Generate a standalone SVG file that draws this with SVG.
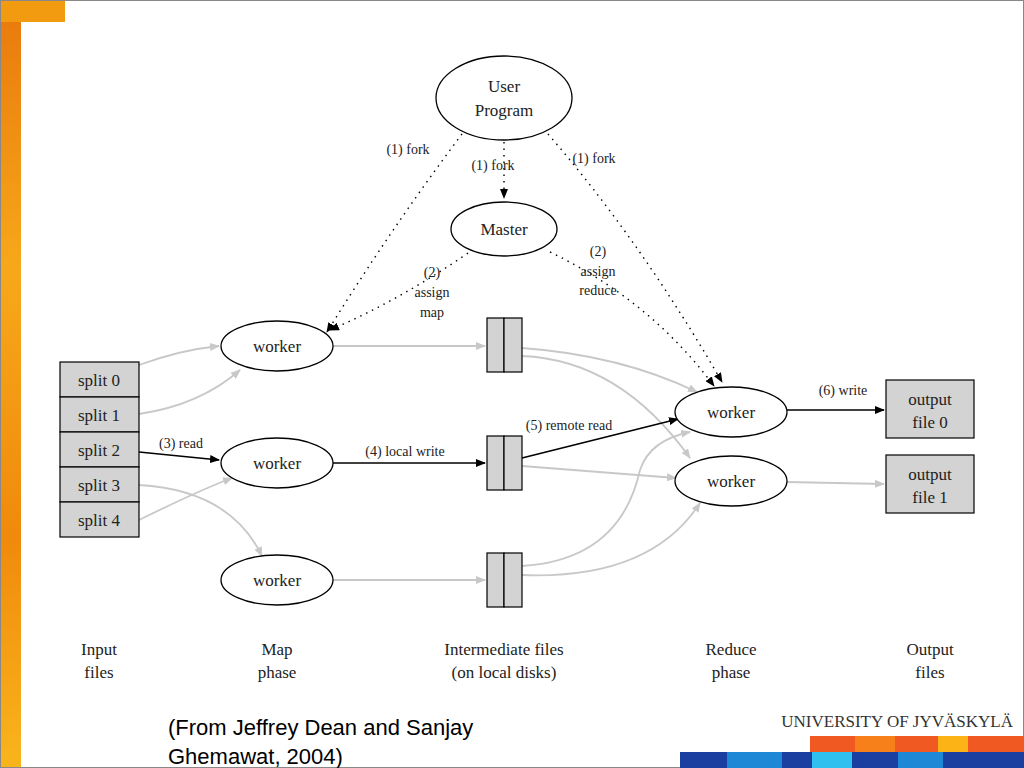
<svg xmlns="http://www.w3.org/2000/svg" width="1024" height="768" viewBox="0 0 1024 768">
<defs>
<linearGradient id="og" x1="0" y1="0" x2="0" y2="1"><stop offset="0" stop-color="#e8780c"/><stop offset="0.35" stop-color="#f7a81a"/><stop offset="0.7" stop-color="#f08a0c"/><stop offset="1" stop-color="#f9b51c"/></linearGradient>
<marker id="ab" markerWidth="10" markerHeight="8" refX="9" refY="4" orient="auto" markerUnits="userSpaceOnUse"><path d="M0,0 L10,4 L0,8 z" fill="#000"/></marker>
<marker id="ag" markerWidth="10" markerHeight="8" refX="9" refY="4" orient="auto" markerUnits="userSpaceOnUse"><path d="M0,0 L10,4 L0,8 z" fill="#c8c8c8"/></marker>
<style>
text{font-family:"Liberation Serif","DejaVu Serif",serif;font-size:17px;fill:#222}
.s{font-size:14px}
.n{fill:#fff;stroke:#000;stroke-width:1.3}
.b{fill:#d3d3d3;stroke:#000;stroke-width:1.2}
.d{fill:none;stroke:#000;stroke-width:1.4;stroke-dasharray:1.5 5;marker-end:url(#ab)}
.g{fill:none;stroke:#c8c8c8;stroke-width:1.8;marker-end:url(#ag)}
.k{fill:none;stroke:#000;stroke-width:1.3;marker-end:url(#ab)}
</style>
</defs>
<rect width="1024" height="768" fill="#fff"/>
<rect x="0" y="0" width="21" height="768" fill="url(#og)"/>
<rect x="0" y="0" width="65" height="22" fill="#f29a10"/>
<rect x="0.5" y="0.5" width="1023" height="767" fill="none" stroke="#888"/>
<g id="connectors">
<path class="d" d="M462,134 Q390,230 327,332"/>
<path class="d" d="M504,142 L504,198"/>
<path class="d" d="M548,134 Q640,240 722,382"/>
<path class="d" d="M468,253 Q400,300 330,330"/>
<path class="d" d="M550,252 Q650,300 714,386"/>
<path class="g" d="M139,365 Q180,350 219,346"/>
<path class="g" d="M139,414 Q200,405 240,370"/>
<path class="k" d="M139,452 L219,460"/>
<path class="g" d="M139,485 Q230,490 262,556"/>
<path class="g" d="M139,520 Q200,490 232,478"/>
<path class="g" d="M333,346 L485,346"/>
<path class="k" d="M333,463 L485,463"/>
<path class="g" d="M333,580 L485,580"/>
<path class="g" d="M522,348 Q620,355 697,392"/>
<path class="g" d="M522,356 Q620,360 690,458"/>
<path class="k" d="M522,458 L678,419"/>
<path class="g" d="M522,466 L676,478"/>
<path class="g" d="M522,566 Q620,560 640,470 Q650,440 690,432"/>
<path class="g" d="M522,575 Q650,580 700,503"/>
<path class="k" d="M787,410 L884,410"/>
<path class="g" d="M787,482 L884,484"/>
</g>
<g id="user-program"><ellipse class="n" cx="504" cy="98" rx="68" ry="42"/><text x="504" y="92" text-anchor="middle">User</text><text x="504" y="116" text-anchor="middle">Program</text></g>
<g id="master"><ellipse class="n" cx="504" cy="229" rx="53" ry="27"/><text x="504" y="235" text-anchor="middle">Master</text></g>
<g id="map-worker-1"><ellipse class="n" cx="277" cy="346" rx="56" ry="25"/><text x="277" y="352" text-anchor="middle">worker</text></g>
<g id="map-worker-2"><ellipse class="n" cx="277" cy="463" rx="56" ry="25"/><text x="277" y="469" text-anchor="middle">worker</text></g>
<g id="map-worker-3"><ellipse class="n" cx="277" cy="580" rx="56" ry="25"/><text x="277" y="586" text-anchor="middle">worker</text></g>
<g id="reduce-worker-1"><ellipse class="n" cx="731" cy="412" rx="56" ry="25"/><text x="731" y="418" text-anchor="middle">worker</text></g>
<g id="reduce-worker-2"><ellipse class="n" cx="731" cy="481" rx="56" ry="25"/><text x="731" y="487" text-anchor="middle">worker</text></g>
<g id="splits">
<rect class="b" x="60" y="362" width="79" height="35"/><text x="99" y="386" text-anchor="middle">split 0</text>
<rect class="b" x="60" y="397" width="79" height="35"/><text x="99" y="421" text-anchor="middle">split 1</text>
<rect class="b" x="60" y="432" width="79" height="35"/><text x="99" y="456" text-anchor="middle">split 2</text>
<rect class="b" x="60" y="467" width="79" height="35"/><text x="99" y="491" text-anchor="middle">split 3</text>
<rect class="b" x="60" y="502" width="79" height="35"/><text x="99" y="526" text-anchor="middle">split 4</text>
</g>
<g id="intermediate-1"><rect class="b" x="487" y="318" width="17" height="54"/><rect class="b" x="504" y="318" width="18" height="54"/></g>
<g id="intermediate-2"><rect class="b" x="487" y="436" width="17" height="54"/><rect class="b" x="504" y="436" width="18" height="54"/></g>
<g id="intermediate-3"><rect class="b" x="487" y="553" width="17" height="54"/><rect class="b" x="504" y="553" width="18" height="54"/></g>
<g id="output-0"><rect class="b" x="886" y="380" width="88" height="58"/><text x="930" y="405" text-anchor="middle">output</text><text x="930" y="428" text-anchor="middle">file 0</text></g>
<g id="output-1"><rect class="b" x="886" y="455" width="88" height="58"/><text x="930" y="480" text-anchor="middle">output</text><text x="930" y="503" text-anchor="middle">file 1</text></g>
<g id="labels">
<text class="s" x="408" y="154" text-anchor="middle">(1) fork</text>
<text class="s" x="493" y="170" text-anchor="middle">(1) fork</text>
<text class="s" x="594" y="163" text-anchor="middle">(1) fork</text>
<text class="s" x="432" y="277" text-anchor="middle">(2)</text>
<text class="s" x="432" y="297" text-anchor="middle">assign</text>
<text class="s" x="432" y="317" text-anchor="middle">map</text>
<text class="s" x="598" y="256" text-anchor="middle">(2)</text>
<text class="s" x="598" y="276" text-anchor="middle">assign</text>
<text class="s" x="598" y="295" text-anchor="middle">reduce</text>
<text class="s" x="181" y="448" text-anchor="middle">(3) read</text>
<text class="s" x="405" y="456" text-anchor="middle">(4) local write</text>
<text class="s" x="569" y="430" text-anchor="middle">(5) remote read</text>
<text class="s" x="843" y="395" text-anchor="middle">(6) write</text>
<text x="99" y="655" text-anchor="middle">Input</text><text x="99" y="678" text-anchor="middle">files</text>
<text x="277" y="655" text-anchor="middle">Map</text><text x="277" y="678" text-anchor="middle">phase</text>
<text x="504" y="655" text-anchor="middle">Intermediate files</text><text x="504" y="678" text-anchor="middle">(on local disks)</text>
<text x="731" y="655" text-anchor="middle">Reduce</text><text x="731" y="678" text-anchor="middle">phase</text>
<text x="930" y="655" text-anchor="middle">Output</text><text x="930" y="678" text-anchor="middle">files</text>
</g>
<text x="168" y="735" style="font-family:'Liberation Sans',Arial,sans-serif;font-size:22px;fill:#000">(From Jeffrey Dean and Sanjay</text>
<text x="168" y="764" style="font-family:'Liberation Sans',Arial,sans-serif;font-size:22px;fill:#000">Ghemawat, 2004)</text>
<g id="logo">
<text x="1013" y="727" text-anchor="end" style="font-family:'Liberation Serif',serif;font-size:17px;fill:#333">UNIVERSITY OF JYVÄSKYLÄ</text>
<rect x="810" y="736" width="214" height="16" fill="#f05a22"/>
<rect x="855" y="736" width="40" height="16" fill="#f7801a"/>
<rect x="938" y="736" width="30" height="16" fill="#fbb316"/>
<rect x="680" y="752" width="344" height="16" fill="#1a3fa0"/>
<rect x="727" y="752" width="55" height="16" fill="#1e88d6"/>
<rect x="812" y="752" width="40" height="16" fill="#30c0f0"/>
<rect x="898" y="752" width="45" height="16" fill="#1e88d6"/>
</g>
</svg>
